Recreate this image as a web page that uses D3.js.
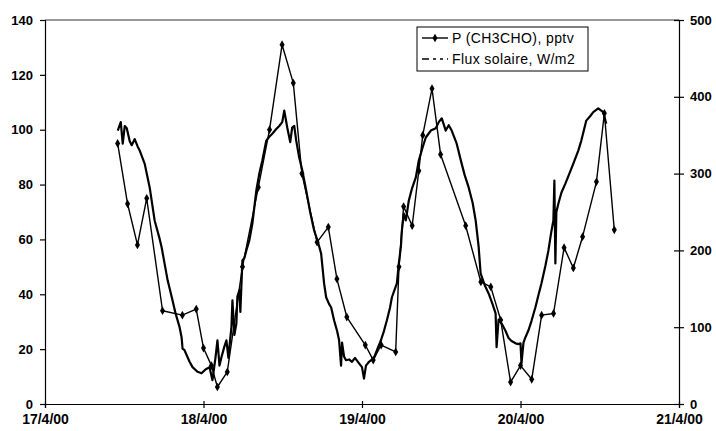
<!DOCTYPE html>
<html><head><meta charset="utf-8">
<script src="https://cdn.jsdelivr.net/npm/d3@7"></script>
<style>body{margin:0;background:#fff}svg{display:block}</style>
</head><body>
<script>
// ---- data ----
const xTickHours = [0, 24, 48, 72, 96];
const xTickLabels = ["17/4/00", "18/4/00", "19/4/00", "20/4/00", "21/4/00"];
const leftTicks = [0, 20, 40, 60, 80, 100, 120, 140];
const rightTicks = [0, 100, 200, 300, 400, 500];
const seriesNames = ["P (CH3CHO), pptv", "Flux solaire, W/m2"];

// hours since 17/4/00 00:00
const pHours = [11.0,12.5,14.0,15.4,17.8,20.8,22.9,24.0,25.2,26.1,27.6,29.9,32.3,34.0,35.9,37.6,38.9,41.2,42.9,44.2,45.7,48.5,49.7,50.9,53.1,53.6,54.3,55.6,56.6,57.2,58.6,59.9,63.7,66.0,67.5,69.0,70.5,72.0,73.7,75.2,77.0,78.6,80.0,81.4,83.5,84.7,86.2];
const pValues = [95,73,58,75,34,32.4,34.6,20.4,14,6.2,11.7,50,79,100,131,117,84,59,64.5,45.6,31.7,21.5,16,21.5,19,50,72,65,85,98,115,91,65,44.5,42.7,30.6,8,14,9,32.4,33,57,49.6,61,81,106,63.5];

const fluxHours = [11.02,11.47,11.77,12.08,12.38,12.83,13.13,13.58,14.04,14.34,15.09,15.85,16.60,17.36,17.66,18.57,19.17,19.77,20.38,20.68,20.83,21.13,21.89,22.34,23.09,23.70,24.30,24.91,25.36,25.81,26.11,26.42,26.72,27.17,27.47,27.77,27.92,28.23,28.38,28.68,28.98,29.13,29.43,29.58,29.89,30.19,30.49,30.94,31.40,32.00,32.45,32.91,33.51,33.96,34.42,35.02,35.47,35.92,36.23,36.68,37.13,37.43,37.74,38.04,38.49,38.94,39.55,40.15,40.75,41.36,41.81,42.26,42.57,43.02,43.32,43.77,44.23,44.53,44.83,44.98,45.28,45.58,46.04,46.49,46.94,47.55,48.00,48.30,48.60,49.06,49.81,50.26,50.87,51.32,51.77,52.23,52.53,52.98,53.28,53.58,53.89,54.04,54.34,54.64,55.09,55.55,56.15,56.60,57.21,57.66,58.42,59.17,59.62,60.08,60.68,61.13,61.58,62.34,63.09,63.55,64.15,64.75,65.21,65.66,65.96,66.57,67.17,67.77,68.23,68.38,68.68,69.13,69.74,70.19,70.64,71.25,71.70,72.00,72.15,72.45,72.75,73.21,73.66,74.26,74.72,75.17,75.77,76.23,76.68,76.98,77.13,77.28,77.43,77.74,78.19,78.79,79.40,80.00,80.75,81.21,81.96,82.57,83.02,83.77,84.23,84.53,84.98];
const fluxValues = [356,367,339,362,359,342,337,345,335,330,313,282,239,215,204,161,140,118,100,87,72,70,55,48,42,40,45,48,31,60,83,50,61,75,83,60,74,100,135,90,105,140,148,120,187,190,200,213,235,278,300,317,343,348,352,358,362,367,382,360,341,360,362,343,321,305,278,250,226,210,196,157,139,130,126,109,95,83,50,80,62,57,58,55,60,53,48,33,50,55,60,70,83,95,109,125,139,150,157,183,205,226,248,239,265,280,295,317,335,347,356,359,367,372,356,363,356,339,313,298,282,262,239,205,170,155,144,130,118,74,110,105,95,86,82,79,78,79,53,80,87,96,108,126,142,157,180,200,225,239,291,183,250,261,275,287,300,313,330,343,369,375,380,385,382,380,365];

// ---- chart ----
const W = 716, H = 431;
const m = {left: 45, right: 679, top: 20, bottom: 404};
const svg = d3.select("body").append("svg").attr("width", W).attr("height", H)
  .style("font-family", "'Liberation Sans', Arial, sans-serif");

const x = d3.scaleLinear().domain([0, 96]).range([m.left, m.right]);
const yL = d3.scaleLinear().domain([0, 140]).range([m.bottom, m.top]);
const yR = d3.scaleLinear().domain([0, 500]).range([m.bottom, m.top]);

// frame top
svg.append("line").attr("x1", m.left).attr("x2", m.right).attr("y1", m.top).attr("y2", m.top)
  .attr("stroke", "#333").attr("stroke-width", 1);

// left axis
const gL = svg.append("g").attr("transform", `translate(${m.left},0)`)
  .call(d3.axisLeft(yL).tickValues(leftTicks).tickSize(5).tickPadding(7).tickFormat(d3.format("d")));
// right axis
const gR = svg.append("g").attr("transform", `translate(${m.right},0)`)
  .call(d3.axisRight(yR).tickValues(rightTicks).tickSize(5).tickPadding(6).tickFormat(d3.format("d")));
gR.selectAll(".tick line").attr("x1", -5).attr("x2", 5);
// bottom axis
const gB = svg.append("g").attr("transform", `translate(0,${m.bottom})`)
  .call(d3.axisBottom(x).tickValues(xTickHours).tickSize(4).tickPadding(6)
    .tickFormat((d, i) => xTickLabels[i]));
gB.selectAll(".tick line").attr("y1", -3).attr("y2", 4);

[gL, gR, gB].forEach(g => {
  g.select(".domain").attr("stroke", "#000").attr("stroke-width", 1.2);
  g.selectAll(".tick line").attr("stroke", "#000").attr("stroke-width", 1.2);
  g.selectAll("text").attr("fill", "#000").style("font-size", "13px").style("font-weight", "bold");
});
gB.selectAll("text").attr("dy", "0.71em").style("font-size", "14px");

// flux line
const fluxData = fluxHours.map((h, i) => [h, fluxValues[i]]);
svg.append("path").datum(fluxData)
  .attr("fill", "none").attr("stroke", "#000").attr("stroke-width", 2.2).attr("stroke-linejoin", "round")
  .attr("d", d3.line().x(d => x(d[0])).y(d => yR(d[1])));

// P line
const pData = pHours.map((h, i) => [h, pValues[i]]);
svg.append("path").datum(pData)
  .attr("fill", "none").attr("stroke", "#000").attr("stroke-width", 1.4).attr("stroke-linejoin", "round")
  .attr("d", d3.line().x(d => x(d[0])).y(d => yL(d[1])));
const sym = d3.symbol().type(d3.symbolDiamond).size(22);
svg.append("g").selectAll("path").data(pData).join("path")
  .attr("transform", d => `translate(${x(d[0])},${yL(d[1])})`)
  .attr("d", sym).attr("fill", "#000");

// legend
const lg = svg.append("g").attr("transform", "translate(417,27)");
lg.append("rect").attr("x", 0).attr("y", 0).attr("width", 171).attr("height", 44)
  .attr("fill", "#fff").attr("stroke", "#000").attr("stroke-width", 1);
lg.append("line").attr("x1", 5).attr("x2", 31).attr("y1", 11).attr("y2", 11)
  .attr("stroke", "#000").attr("stroke-width", 1.4);
lg.append("path").attr("transform", "translate(18,11)").attr("d", sym).attr("fill", "#000");
lg.append("line").attr("x1", 5).attr("x2", 31).attr("y1", 32).attr("y2", 32)
  .attr("stroke", "#000").attr("stroke-width", 1.4).attr("stroke-dasharray", "7,4,3,4,3,4");
lg.selectAll("text.lab").data(seriesNames).join("text").attr("class", "lab")
  .attr("x", 35).attr("y", (d, i) => 11 + i * 21).attr("dy", "0.35em")
  .style("font-size", "14px").style("letter-spacing", "0.4px").attr("fill", "#000").text(d => d);
</script>
</body></html>
